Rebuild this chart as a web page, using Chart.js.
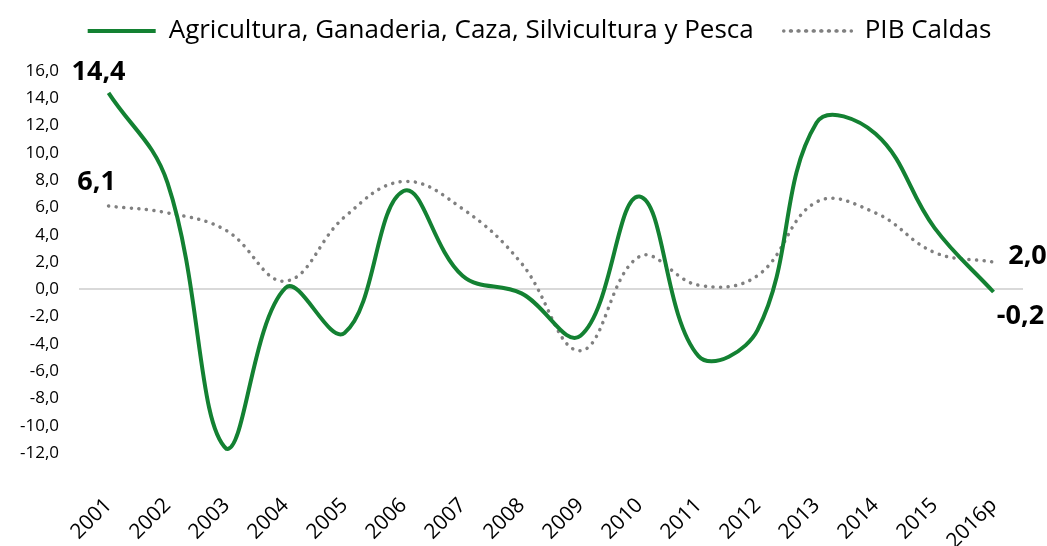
<!DOCTYPE html>
<html>
<head>
<meta charset="utf-8">
<script src="https://cdn.jsdelivr.net/npm/chart.js@4"></script>
<style>
  html, body { margin: 0; padding: 0; background: #fff; }
  #wrap { width: 1047px; height: 546px; }
</style>
</head>
<body>
<div id="wrap"><canvas id="lineChart"></canvas></div>
<script>
// Chart data
const years = ['2001', '2002', '2003', '2004', '2005', '2006', '2007', '2008',
  '2009', '2010', '2011', '2012', '2013', '2014', '2015', '2016p'];
const agroValues = [14.4, 7.8, -11.7, 0.1, -3.2, 7.2, 1.0, -0.3,
  -3.4, 6.8, -4.9, -3.0, 12.2, 11.4, 4.5, -0.2];
const pibValues = [6.1, 5.6, 4.3, 0.6, 5.3, 7.9, 5.9, 1.9,
  -4.5, 2.4, 0.3, 1.0, 6.4, 5.6, 2.7, 2.0];
const yTicks = [-12, -10, -8, -6, -4, -2, 0, 2, 4, 6, 8, 10, 12, 14, 16];

const fmt = v => v.toFixed(1).replace('.', ',');

// bold value labels at the ends of both lines
const endLabels = {
  id: 'endLabels',
  afterDatasetsDraw(chart) {
    const ctx = chart.ctx;
    const spots = [
      { ds: 0, i: 0, dx: -10, dy: -21 },
      { ds: 1, i: 0, dx: -12, dy: -24 },
      { ds: 1, i: years.length - 1, dx: 34, dy: -6 },
      { ds: 0, i: years.length - 1, dx: 27, dy: 24 }
    ];
    ctx.save();
    ctx.font = 'bold 27px "Open Sans"';
    ctx.fillStyle = '#000';
    ctx.textAlign = 'center';
    ctx.textBaseline = 'middle';
    spots.forEach(s => {
      const pt = chart.getDatasetMeta(s.ds).data[s.i];
      const v = chart.data.datasets[s.ds].data[s.i];
      ctx.fillText(fmt(v), pt.x + s.dx, pt.y + s.dy);
    });
    ctx.restore();
  }
};

// extra room under the legend, and centre it on the whole canvas
const legendGap = {
  id: 'legendGap',
  beforeInit(chart) {
    const fit = chart.legend.fit;
    chart.legend.fit = function () {
      fit.bind(chart.legend)();
      this.height += 17;
    };
  },
  afterLayout(chart) {
    chart.legend.left += 28;
    chart.legend.right += 28;
  }
};

new Chart(document.getElementById('lineChart').getContext('2d'), {
  type: 'line',
  data: {
    labels: years,
    datasets: [{
      label: 'Agricultura, Ganaderia, Caza, Silvicultura y Pesca',
      data: agroValues,
      borderColor: '#138132',
      borderWidth: 4,
      pointRadius: 0,
      tension: 0.4,
      fill: false
    }, {
      label: 'PIB Caldas',
      data: pibValues,
      borderColor: '#808080',
      borderWidth: 3.5,
      borderDash: [0.1, 7.5],
      borderCapStyle: 'round',
      pointRadius: 0,
      tension: 0.4,
      fill: false
    }]
  },
  options: {
    responsive: true,
    maintainAspectRatio: false,
    animation: false,
    layout: { padding: { top: -12, right: 24, left: 0, bottom: 0 } },
    plugins: {
      legend: {
        position: 'top',
        align: 'center',
        labels: {
          font: { family: '"Open Sans"', size: 26 },
          color: '#000',
          boxWidth: 68,
          boxHeight: 0,
          padding: 30,
          generateLabels(chart) {
            return chart.data.datasets.map((ds, i) => ({
              text: ds.label,
              fillStyle: ds.borderColor,
              strokeStyle: ds.borderColor,
              lineWidth: ds.borderWidth,
              lineDash: ds.borderDash || [],
              lineCap: 'round',
              hidden: false,
              datasetIndex: i
            }));
          }
        }
      },
      tooltip: { enabled: false }
    },
    scales: {
      x: {
        offset: true,
        grid: { display: false },
        border: { display: false },
        afterFit(scale) { scale.height = 93; },
        ticks: {
          color: '#000',
          font: { family: '"Open Sans"', size: 21 },
          maxRotation: 45,
          minRotation: 45,
          autoSkip: false,
          padding: 32
        }
      },
      y: {
        min: -12,
        max: 16,
        afterBuildTicks(axis) { axis.ticks = yTicks.map(v => ({ value: v })); },
        grid: {
          drawTicks: false,
          color: c => c.tick && c.tick.value === 0 ? '#d9d9d9' : 'rgba(0,0,0,0)',
          lineWidth: 2
        },
        border: { display: false },
        ticks: {
          color: '#000',
          font: { family: '"Open Sans"', size: 17 },
          padding: 20,
          callback: v => fmt(v)
        }
      }
    }
  },
  plugins: [endLabels, legendGap]
});
</script>
</body>
</html>
